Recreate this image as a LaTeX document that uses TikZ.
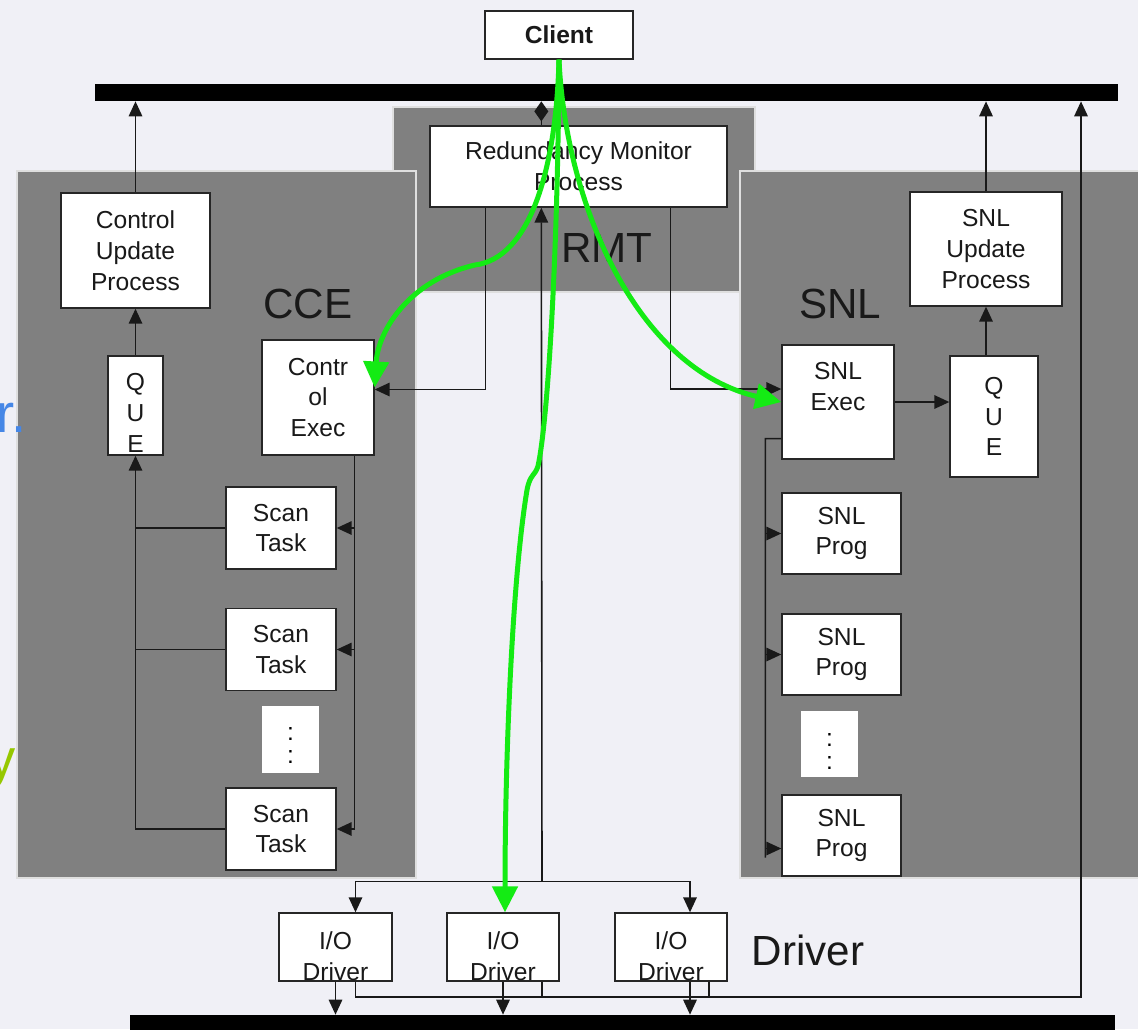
\documentclass[tikz,border=0pt]{standalone}
\usepackage{fontspec}
\setmainfont{Liberation Sans}
\usetikzlibrary{arrows.meta,calc,positioning}
\definecolor{slidebg}{RGB}{240,240,246}
\definecolor{panelgray}{RGB}{128,128,128}
\definecolor{flowgreen}{RGB}{20,235,20}
\definecolor{fragblue}{RGB}{70,135,230}
\definecolor{fragyellow}{RGB}{150,200,0}
\tikzset{
  panel/.style={fill=panelgray, draw=white!75!gray, line width=0.6pt},
  proc/.style={draw=black!85, fill=white, line width=0.8pt, inner sep=0pt, align=center, text=black!90, font=\fontsize{14}{17.5}\selectfont},
  paneltitle/.style={font=\fontsize{24}{28}\selectfont, text=black!90, inner sep=0pt},
  bus/.style={fill=black, inner sep=0pt},
  wire/.style={draw=black!90, line width=0.9pt},
  feed/.style={wire, -{Triangle[length=0.3cm, width=0.27cm]}},
  req/.style={draw=flowgreen, line width=0.1cm, -{Triangle[length=0.52cm, width=0.5cm]}},
  gap/.style={fill=white, inner sep=0pt, align=center, font=\fontsize{14}{13}\selectfont},
  frag/.style={anchor=base east, inner sep=0pt, font=\fontsize{31}{31}\selectfont}
}

\begin{document}
\begin{tikzpicture}[x=0.02cm, y=-0.02cm]
  \useasboundingbox (0,0) rectangle (1138,1029);
  \fill[slidebg] (0,0) rectangle (1138,1029);
  % panels
  \path[panel] (393,107) rectangle (755,292);
  \path[panel] (17,171) rectangle (416,878);
  \path[panel] (740,171) rectangle (1145,878);
  \node[frag, text=fragblue] (fragr) at (27,432) {r.};
  \node[frag, text=fragyellow] (fragy) at (16,777) {y};
  \node[paneltitle] (rmtlabel) at (607,248) {RMT};
  \node[paneltitle] (ccelabel) at (308,304) {CCE};
  \node[paneltitle] (snllabel) at (840,304) {SNL};
  \node[paneltitle] (drvlabel) at (808,950) {Driver};
  % buses
  \node[bus, minimum width=20.46cm, minimum height=0.34cm] (topbus) at (606.5,92.5) {};
  \node[bus, minimum width=19.7cm, minimum height=0.4cm] (botbus) at (622.5,1025) {};
  % processes
  \node[proc, font=\bfseries\fontsize{14}{17}\selectfont, minimum width=2.96cm, minimum height=0.96cm] (client) at (559,35) {Client};
  \node[proc, minimum width=5.94cm, minimum height=1.62cm] (rmp) at (578.5,166.5) {Redundancy Monitor\\Process};
  \node[proc, minimum width=2.98cm, minimum height=2.3cm] (cup) at (135.5,250.5) {Control\\Update\\Process};
  \node[proc, minimum width=1.1cm, minimum height=1.98cm] (queL) at (135.5,405.5) {\rule{0pt}{18pt}Q\\U\\E};
  \node[proc, minimum width=2.24cm, minimum height=2.3cm] (cexec) at (318,397.5) {Contr\\ol\\Exec};
  \node[proc, minimum width=2.2cm, minimum height=1.64cm] (scan1) at (281,528) {Scan\\Task};
  \node[proc, minimum width=2.2cm, minimum height=1.64cm] (scan2) at (281,649.5) {Scan\\Task};
  \node[proc, minimum width=2.2cm, minimum height=1.64cm] (scan3) at (281,829) {Scan\\Task};
  \node[gap, minimum width=1.14cm, minimum height=1.34cm] (dotsL) at (290.5,739.5) {\rule{0pt}{14pt}:\\:};
  \node[proc, minimum width=3.04cm, minimum height=2.28cm] (snlup) at (986,249) {SNL\\Update\\Process};
  \node[proc, minimum width=1.76cm, minimum height=2.42cm] (queR) at (994,416.5) {Q\\U\\E};
  \node[proc, minimum width=2.24cm, minimum height=2.28cm] (snlexec) at (838,402) {SNL\\Exec\\\mbox{}};
  \node[proc, minimum width=2.38cm, minimum height=1.62cm] (prog1) at (841.5,533.5) {SNL\\Prog};
  \node[proc, minimum width=2.38cm, minimum height=1.62cm] (prog2) at (841.5,654.5) {SNL\\Prog};
  \node[proc, minimum width=2.38cm, minimum height=1.62cm] (prog3) at (841.5,835.5) {SNL\\Prog};
  \node[gap, minimum width=1.14cm, minimum height=1.32cm] (dotsR) at (829.5,744) {\rule{0pt}{16pt}:\\:};
  \node[proc, minimum width=2.26cm, minimum height=1.36cm] (drv1) at (335.5,947) {\rule{0pt}{21pt}I/O\\Driver};
  \node[proc, minimum width=2.24cm, minimum height=1.36cm] (drv2) at (503,947) {\rule{0pt}{21pt}I/O\\Driver};
  \node[proc, minimum width=2.24cm, minimum height=1.36cm] (drv3) at (671,947) {\rule{0pt}{21pt}I/O\\Driver};
  % CCE links
  \draw[feed] (cup.north) -- (cup.north |- topbus.south);
  \draw[feed] (queL.north) -- (queL.north |- cup.south);
  \draw[feed] (scan3.west) -| (queL.south);
  \draw[wire] (scan1.west) -- (scan1.west -| queL.south);
  \draw[wire] (scan2.west) -- (scan2.west -| queL.south);
  \coordinate (cfan) at ($(cexec.south east)+(-20,0)$);
  \draw[wire] (cfan) -- (cfan |- scan3.east);
  \foreach \t in {scan1,scan2,scan3}{\draw[feed] (cfan |- \t.east) -- (\t.east);}
  % RMT links
  \coordinate (rleft) at ($(rmp.south west)+(56,0)$);
  \coordinate (rright) at ($(rmp.south east)+(-57,0)$);
  \coordinate (rmid) at ($(rmp.south west)+(112,0)$);
  \coordinate (rtop) at ($(rmp.north west)+(112,0)$);
  \coordinate (cin) at ($(cexec.east)+(0,-8)$);
  \coordinate (sin) at ($(snlexec.west)+(0,-13)$);
  \draw[feed] (rleft) |- (cin);
  \draw[feed] (rright) |- (sin);
  \draw[wire, -{Diamond[length=0.4cm, width=0.28cm]}] (rtop) -- (rtop |- topbus.south);
  % SNL links
  \draw[feed] (snlexec.east) -- (snlexec.east -| queR.west);
  \draw[feed] (snlup.south |- queR.north) -- (snlup.south);
  \draw[feed] (snlup.north) -- (snlup.north |- topbus.south);
  \coordinate (sfan) at ($(snlexec.south west)+(-16,-21)$);
  \coordinate (sfanend) at ($(prog3.west)+(-16,22)$);
  \draw[wire] (snlexec.west |- sfan) -- (sfan) -- (sfanend);
  \foreach \p in {prog1,prog2}{\draw[feed] (sfan |- \p.west) -- (\p.west);}
  \draw[feed] ($(prog3.west)+(-16,13)$) -- ($(prog3.west)+(0,13)$);
  % driver links
  \coordinate (dfan) at ($(drv2.north)+(39,-31)$);
  \coordinate (d1in) at ($(drv1.north)+(20,0)$);
  \coordinate (d3in) at ($(drv3.north)+(19,0)$);
  \coordinate (d3out) at ($(drv3.south)+(19,0)$);
  \coordinate (upcol) at (1081,997);
  \draw[feed] (dfan) -- (rmid);
  \draw[feed] (dfan) -| (d1in);
  \draw[feed] (dfan) -| (d3in);
  \draw[feed] (drv1.south) -- (drv1.south |- botbus.north);
  \draw[feed] (drv2.south) -- (drv2.south |- botbus.north);
  \draw[feed] (d3out) -- (d3out |- botbus.north);
  \draw[feed] ($(drv1.south)+(20,0)$) |- (upcol) -- (upcol |- topbus.south);
  \draw[wire] ($(drv2.south)+(39,0)$) -- ++(0,16);
  \draw[wire] ($(drv3.south)+(38,0)$) -- ++(0,16);
  % client requests
  \coordinate (d2in) at ($(drv2.north)+(2,0)$);
  \coordinate (cgreen) at ($(cexec.east)+(0,-10)$);
  \draw[req] (client.south) .. controls (556,170) and (530,258) .. (475,265) .. controls (410,280) and (378,330) .. (cgreen);
  \draw[req] (client.south) .. controls (566,210) and (640,370) .. (snlexec.west);
  \draw[req] (client.south) .. controls (558,250) and (548,420) .. (538,466) .. controls (535,476) and (530,474) .. (527,490) .. controls (512,580) and (505,760) .. (d2in);
\end{tikzpicture}
\end{document}
